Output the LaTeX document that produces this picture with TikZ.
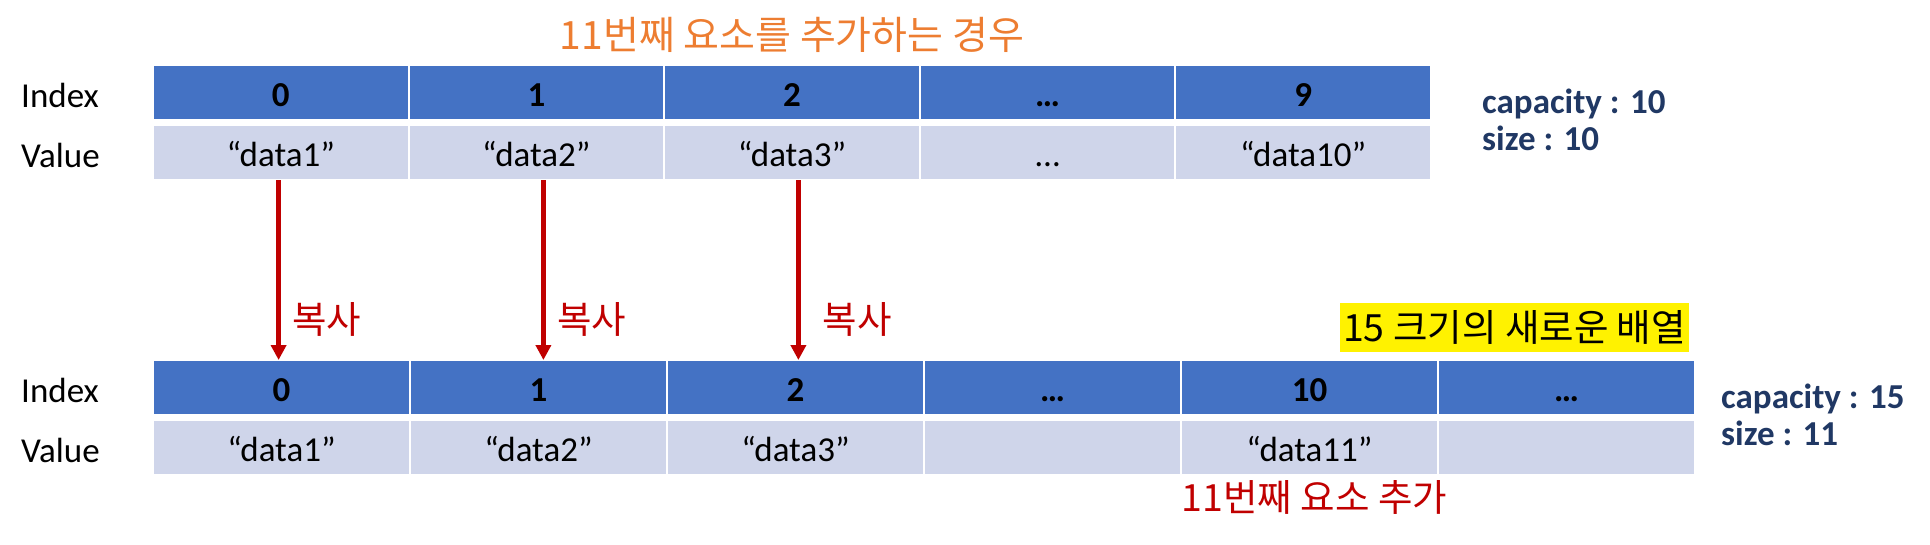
\documentclass[tikz,border=0pt]{standalone}
\usepackage{fontspec}
\setmainfont{Carlito}
\newfontfamily\kr{Noto Sans CJK KR}
\usetikzlibrary{arrows.meta}
\definecolor{idxblue}{RGB}{68,114,196}
\definecolor{valblue}{RGB}{207,213,234}
\definecolor{ttlorange}{RGB}{237,125,49}
\definecolor{darkred}{RGB}{192,0,0}
\definecolor{navytext}{RGB}{32,56,100}
\newcommand{\pxsize}[1]{\fontsize{#1pt}{#1pt}\selectfont}
\begin{document}
\begin{tikzpicture}[x=1pt,y=-1pt,
  cell/.style={draw=white, line width=2pt, minimum height=55pt, inner sep=0pt, outer sep=0pt,
    text height=28pt, text depth=0pt},
  idx/.style={cell, fill=idxblue, font=\pxsize{35}\bfseries},
  val/.style={cell, fill=valblue, font=\pxsize{35}},
  rowlbl/.style={anchor=base west, inner sep=0pt, font=\pxsize{35}},
  info/.style={anchor=base west, inner sep=0pt, text=navytext, font=\pxsize{35}\bfseries},
  arr/.style={draw=darkred, line width=4.5pt, -{Triangle[length=15pt,width=15pt]}},
  cpy/.style={text=darkred, font=\kr\pxsize{37.5}, inner sep=0pt, anchor=west}
]
\path[use as bounding box] (0,0) rectangle (1930,544);

% title
\node[font=\kr\pxsize{39}, text=ttlorange, inner sep=0pt] (title) at (792,35) {11번째 요소를 추가하는 경우};

% top table
\foreach \i/\a/\b in {0/0/{“data1”},1/1/{“data2”},2/2/{“data3”},3/{…}/{…},4/9/{“data10”}} {
  \node[idx, minimum width=255.6pt] (ti\i) at ({153+(\i+0.5)*255.6}, 92.5) {\a};
  \node[val, minimum width=255.6pt] (tv\i) at ({153+(\i+0.5)*255.6}, 152.5) {\b};
}
\node[rowlbl] (tidx) at (21,107) {Index};
\node[rowlbl] (tval) at (21,167) {Value};
\node[info] (cap1) at (1482,113) {capacity : 10};
\node[info] (size1) at (1482,150) {size : 10};

% bottom table
\foreach \i/\a/\b in {0/0/{“data1”},1/1/{“data2”},2/2/{“data3”},3/{…}/{},4/10/{“data11”},5/{…}/{}} {
  \node[idx, minimum width=257pt] (bi\i) at ({153+(\i+0.5)*257}, 387.5) {\a};
  \node[val, minimum width=257pt] (bv\i) at ({153+(\i+0.5)*257}, 447.5) {\b};
}
\node[rowlbl] (bidx) at (21,402) {Index};
\node[rowlbl] (bval) at (21,462) {Value};
\node[info] (cap2) at (1721,408) {capacity : 15};
\node[info] (size2) at (1721,445) {size : 11};

% new array label
\node[fill=yellow, minimum width=349pt, minimum height=49pt, inner sep=0pt, font=\kr\pxsize{37.5}] (newarr) at (1514.5,327.5) {15 크기의 새로운 배열};

% added element label
\node[text=darkred, font=\kr\pxsize{37.5}, inner sep=0pt] (add11) at (1314.5,497) {11번째 요소 추가};

% copy arrows
\foreach \i/\ax/\lx in {0/278.6/292, 1/543.4/557, 2/798.4/822.5} {
  \coordinate (a\i) at (\ax, 0);
  \draw[arr] (a\i |- tv\i.south) -- (a\i |- bi\i.north);
  \node[cpy] (c\i) at (\lx, 319) {복사};
}
\end{tikzpicture}
\end{document}
